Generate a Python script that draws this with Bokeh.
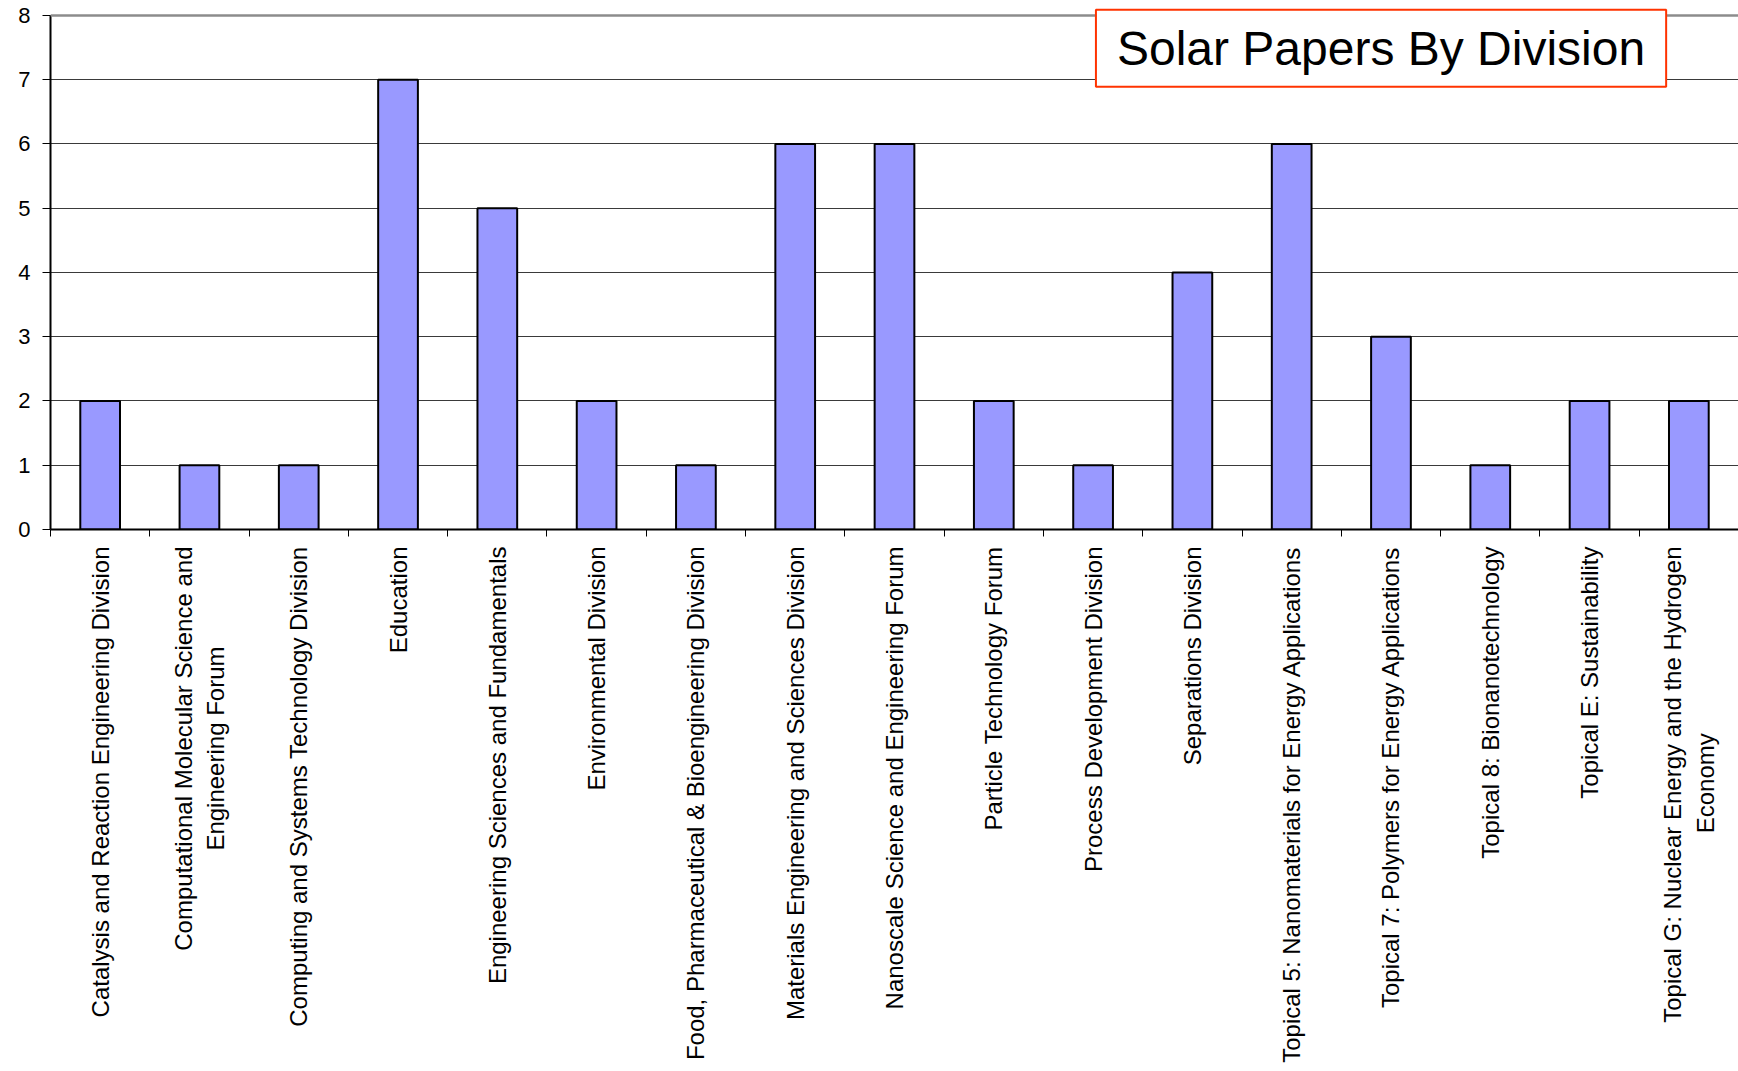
import math
from bokeh.plotting import figure
from bokeh.models import Range1d, FixedTicker, Label, Span, ColumnDataSource
from bokeh.embed import file_html
from bokeh.resources import INLINE

NB = "\u00a0"
categories = [
    "Catalysis and Reaction Engineering Division",
    "Computational Molecular Science and\nEngineering Forum" + NB * 15,
    "Computing and Systems Technology Division",
    "Education",
    "Engineering Sciences and Fundamentals",
    "Environmental Division",
    "Food, Pharmaceutical & Bioengineering Division",
    "Materials Engineering and Sciences Division",
    "Nanoscale Science and Engineering Forum",
    "Particle Technology Forum",
    "Process Development Division",
    "Separations Division",
    "Topical 5: Nanomaterials for Energy Applications",
    "Topical 7: Polymers for Energy Applications",
    "Topical 8: Bionanotechnology",
    "Topical E: Sustainability",
    "Topical G: Nuclear Energy and the Hydrogen\nEconomy" + NB * 28,
]
papers = [2, 1, 1, 7, 5, 2, 1, 6, 6, 2, 1, 4, 6, 3, 1, 2, 2]
y_ticks = [0, 1, 2, 3, 4, 5, 6, 7, 8]
title_text = "Solar Papers By Division"

n = len(categories)
centers = [i + 0.5 for i in range(n)]
bounds = [float(i) for i in range(n + 1)]

FONT = "Liberation Sans"

# a little headroom above 8 so the title box can rise above the top line
p = figure(
    frame_width=1688, frame_height=523,
    x_range=Range1d(0, n), y_range=Range1d(0, 8.14),
    output_backend="svg", toolbar_location=None,
    min_border_left=50, min_border_right=0, min_border_top=6, min_border_bottom=0,
)
p.background_fill_color = "white"
p.border_fill_color = "white"
p.outline_line_color = None

src = ColumnDataSource(dict(x=centers, top=papers))
p.vbar(x="x", top="top", bottom=0, width=0.4, source=src,
       fill_color="#9999FF", line_color="black", line_width=2)

# grid
p.xgrid.grid_line_color = None
p.ygrid.ticker = FixedTicker(ticks=y_ticks)
p.ygrid.grid_line_color = "#3a3a3a"
p.ygrid.grid_line_width = 1
p.add_layout(Span(location=8, dimension="width", line_color="#8c8c8c", line_width=2.5))

# y axis
ya = p.yaxis[0]
ya.ticker = FixedTicker(ticks=y_ticks)
ya.bounds = (0, 8)
ya.axis_line_color = "black"
ya.axis_line_width = 2
ya.major_tick_out = 8
ya.major_tick_in = 0
ya.major_tick_line_color = "black"
ya.minor_tick_line_color = None
ya.major_label_text_font = FONT
ya.major_label_text_font_size = "22px"
ya.major_label_text_color = "black"
ya.major_label_standoff = 12

# x axis
xa = p.xaxis[0]
xa.ticker = FixedTicker(ticks=centers, minor_ticks=bounds)
xa.major_label_overrides = {c: lab for c, lab in zip(centers, categories)}
xa.major_label_orientation = math.pi / 2
xa.major_tick_line_color = None
xa.major_tick_out = 0
xa.major_tick_in = 0
xa.minor_tick_line_color = "black"
xa.minor_tick_out = 7
xa.minor_tick_in = 0
xa.axis_line_color = "black"
xa.axis_line_width = 2
xa.major_label_text_font = FONT
xa.major_label_text_font_size = "24px"
xa.major_label_text_color = "black"
xa.major_label_standoff = 10

# title box
p.add_layout(Label(
    x=13.40, y=7.49, text=title_text,
    text_align="center", text_baseline="middle",
    text_font=FONT, text_font_size="48px", text_color="black",
    background_fill_color="white",
    border_line_color="#FF3300", border_line_width=2,
    padding=dict(left=21, right=21, top=12, bottom=12),
))

open("out.html", "w").write(file_html(p, INLINE))
